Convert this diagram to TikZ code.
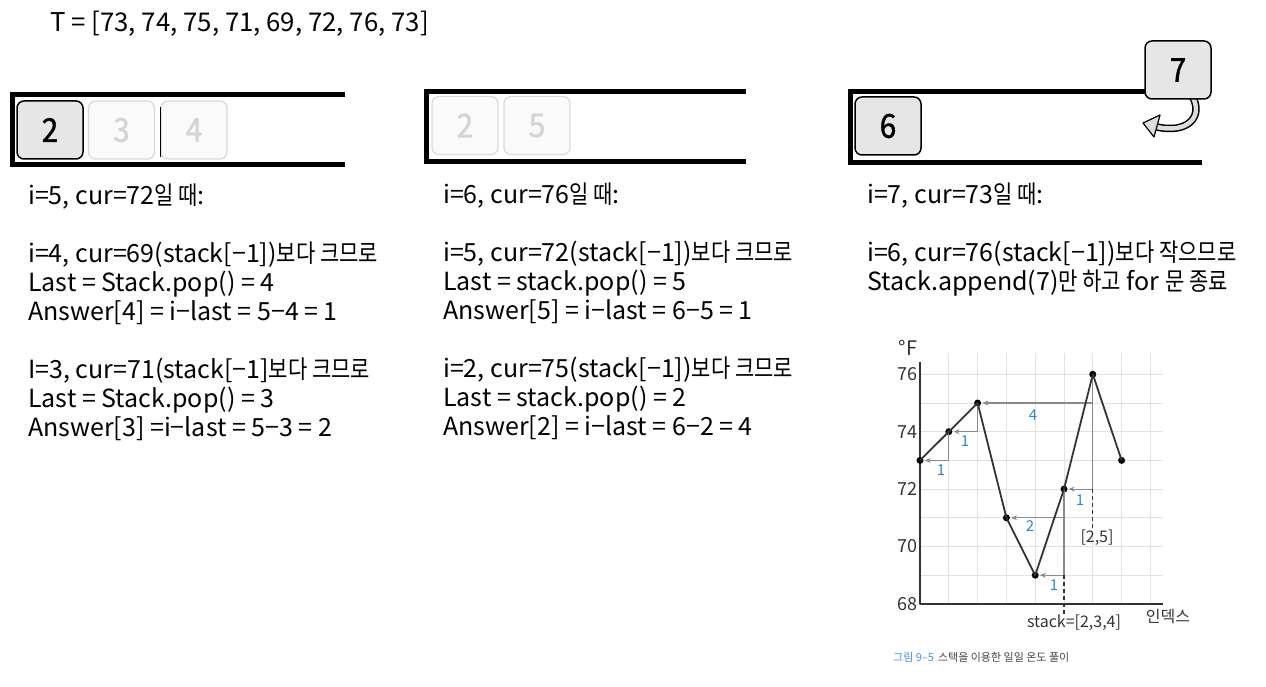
\documentclass[tikz,border=0pt]{standalone}
\usepackage{fontspec}
\setmainfont{Noto Sans CJK KR}
\newfontfamily\kr[FakeStretch=0.84]{Noto Sans CJK KR}
\newfontfamily\boxfont[FakeBold=1.2, FakeStretch=0.9]{Noto Sans CJK KR}
\usetikzlibrary{arrows.meta}
\definecolor{boxgray}{HTML}{E6E6E6}
\definecolor{ghostfill}{HTML}{FAFAFA}
\definecolor{ghostline}{HTML}{DADADA}
\definecolor{ghosttext}{HTML}{D4D4D4}
\definecolor{gridc}{HTML}{E2E2E2}
\definecolor{ink}{HTML}{333333}
\definecolor{arrowc}{HTML}{8A8A8A}
\definecolor{lblue}{HTML}{2F86D6}
\definecolor{capblue}{HTML}{4A90D9}
\definecolor{capgray}{HTML}{444444}
\definecolor{curlfill}{HTML}{DDDDDD}
\tikzset{
  txt/.style={anchor=base west, inner sep=0pt, font=\fontsize{25}{30}\selectfont},
  actbox/.style={draw=black, line width=1.5pt, fill=boxgray, rounded corners=7pt,
    minimum width=66pt, minimum height=58pt, inner sep=0pt, font=\boxfont\fontsize{33}{33}\selectfont},
  ghostbox/.style={draw=ghostline, line width=1.3pt, fill=ghostfill, text=ghosttext, rounded corners=7pt,
    minimum width=66pt, minimum height=58pt, inner sep=0pt, font=\boxfont\fontsize{33}{33}\selectfont},
  framebar/.style={line width=5pt, line join=miter},
  dot/.style={circle, fill=black, minimum size=7pt, inner sep=0pt},
  ylab/.style={inner sep=0pt, font=\fontsize{18}{18}\selectfont, text=ink},
  blab/.style={inner sep=0pt, font=\fontsize{15}{15}\selectfont, text=lblue},
  hand/.style={inner sep=0pt, font=\fontsize{16}{16}\selectfont, text=ink},
  sarrow/.style={draw=arrowc, line width=1.1pt, -{Stealth[length=6pt,width=5pt]}, shorten >=1pt},
  dline/.style={draw=ink, line width=1.3pt, dash pattern=on 4pt off 3pt},
}
\begin{document}
\begin{tikzpicture}[x=1pt,y=-1pt]
\useasboundingbox (0,0) rectangle (1266,687);

% title
\node[txt, font=\fontsize{25.8}{30}\selectfont] (title) at (50,32) {T = [73, 74, 75, 71, 69, 72, 76, 73]};

% ---- stack 1
\draw[framebar] (345,94.5) -- (12.5,94.5) -- (12.5,165) -- (345,165);
\node[actbox] (s1a) at (50,130) {2};
\node[ghostbox] (s1b) at (121.5,130) {3};
\node[ghostbox] (s1c) at (194,130) {4};
\draw[black, line width=1pt] (s1c.west |- 0,107) -- (s1c.west |- 0,157);

% ---- stack 2
\draw[framebar] (746,91.5) -- (426.5,91.5) -- (426.5,161.5) -- (746,161.5);
\node[ghostbox] (s2a) at (465,125.5) {2};
\node[ghostbox] (s2b) at (537,125.5) {5};

% ---- stack 3
\draw[framebar] (1202,91.7) -- (850.5,91.7) -- (850.5,162.5) -- (1202,162.5);
\node[actbox] (s3a) at (888,126) {6};
% curled arrow
\draw[black, line width=7.5pt] (1192,96) .. controls (1204,116) and (1188,134) .. (1157,127);
\draw[curlfill, line width=4.5pt] (1192,96) .. controls (1204,116) and (1188,134) .. (1157,127);
\draw[black, line width=1.2pt, fill=curlfill, line join=round] (1143,123) -- (1160,115) -- (1154,137) -- cycle;
\node[actbox] (s3b) at (1178,70) {7};

% ---- text columns
\node[txt] (l1) at (28,205) {i=5, cur=72{\kr 일 때}:};
\node[txt] (l2) at (28,262) {i=4, cur=69(stack[−1]){\kr 보다 크므로}};
\node[txt] (l3) at (28,291) {Last = Stack.pop() = 4};
\node[txt] (l4) at (28,320) {Answer[4] = i−last = 5−4 = 1};
\node[txt] (l5) at (28,378) {I=3, cur=71(stack[−1]{\kr 보다 크므로}};
\node[txt] (l6) at (28,407) {Last = Stack.pop() = 3};
\node[txt] (l7) at (28,436) {Answer[3] =i−last = 5−3 = 2};

\node[txt] (m1) at (443,204) {i=6, cur=76{\kr 일 때}:};
\node[txt] (m2) at (443,261) {i=5, cur=72(stack[−1]){\kr 보다 크므로}};
\node[txt] (m3) at (443,290) {Last = stack.pop() = 5};
\node[txt] (m4) at (443,319) {Answer[5] = i−last = 6−5 = 1};
\node[txt] (m5) at (443,377) {i=2, cur=75(stack[−1]){\kr 보다 크므로}};
\node[txt] (m6) at (443,406) {Last = stack.pop() = 2};
\node[txt] (m7) at (443,435) {Answer[2] = i−last = 6−2 = 4};

\node[txt] (r1) at (867,204) {i=7, cur=73{\kr 일 때}:};
\node[txt] (r2) at (867,261) {i=6, cur=76(stack[−1]){\kr 보다 작으므로}};
\node[txt] (r3) at (867,290) {Stack.append(7){\kr 만 하고} for {\kr 문 종료}};

% ---- chart grid
\foreach \i in {1,...,8} \draw[gridc, line width=1pt] ({920+28.8*\i},353) -- ({920+28.8*\i},604);
\foreach \t in {0,...,7} \draw[gridc, line width=1pt] (920,{374.3+28.7*\t}) -- (1163,{374.3+28.7*\t});
\draw[ink, line width=1.8pt, line join=round] (920,362) -- (920,604) -- (1163,604);

% axis labels
\node[ylab, font=\fontsize{20}{20}\selectfont] (degF) at (908,348) {°F};
\node[ylab] (y76) at (907,374.3) {76};
\node[ylab] (y74) at (907,431.7) {74};
\node[ylab] (y72) at (907,489.1) {72};
\node[ylab] (y70) at (907,546.5) {70};
\node[ylab] (y68) at (907,603.9) {68};
\node[hand] (xlab) at (1168,617) {인덱스};

% data points
\node[dot] (p0) at (920,460.4) {};
\node[dot] (p1) at (948.8,431.7) {};
\node[dot] (p2) at (977.6,403) {};
\node[dot] (p3) at (1006.4,517.8) {};
\node[dot] (p4) at (1035.2,575.2) {};
\node[dot] (p5) at (1064,489.1) {};
\node[dot] (p6) at (1092.8,374.3) {};
\node[dot] (p7) at (1121.6,460.4) {};

% labels
\node[hand] (lb25) at (1097,538) {[2,5]};
\node[hand] (lbstack) at (1074,623) {stack=[2,3,4]};

% stack arrows
\draw[sarrow] (p1.center) -- (p1 |- p0) -- (p0);
\draw[sarrow] (p2.center) -- (p2 |- p1) -- (p1);
\draw[sarrow] (p6.center) -- (p6 |- p2) -- (p2);
\draw[sarrow] (p6.center) -- (p6 |- p5) -- (p5);
\draw[sarrow] (p5.center) -- (p5 |- p3) -- (p3);
\draw[sarrow] (p5.center) -- (p5 |- p4) -- (p4);
\draw[dline] (p6 |- p5) -- (p6 |- lb25.north);
\draw[dline] (p5 |- p4) -- (p5 |- lbstack.north);

\node[blab] (n1) at (941,470) {1};
\node[blab] (n2) at (965,441) {1};
\node[blab] (n3) at (1033,415) {4};
\node[blab] (n4) at (1080,500) {1};
\node[blab] (n5) at (1030,526) {2};
\node[blab] (n6) at (1054,585) {1};

% temperature line
\draw[ink, line width=1.8pt, line join=round] (p0.center) -- (p1.center) -- (p2.center) -- (p3.center) -- (p4.center) -- (p5.center) -- (p6.center) -- (p7.center);

% caption
\node[anchor=west, inner sep=0pt, font=\fontsize{11}{11}\selectfont] (cap) at (893,657)
  {\textcolor{capblue}{그림 9–5}\hspace{4pt}\textcolor{capgray}{스택을 이용한 일일 온도 풀이}};
\end{tikzpicture}
\end{document}
